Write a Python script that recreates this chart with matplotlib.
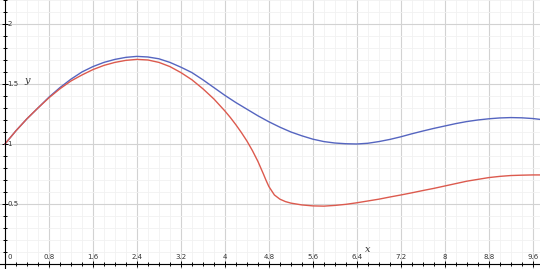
import numpy as np
import matplotlib
matplotlib.use('Agg')
import matplotlib.pyplot as plt
from matplotlib.ticker import MultipleLocator

# values
blue_x = [0, 0.2, 0.4, 0.6, 0.8, 1.0, 1.2, 1.4, 1.6, 1.8, 2.0, 2.2, 2.4, 2.6, 2.8, 3.0,
          3.2, 3.4, 3.6, 3.8, 4.0, 4.2, 4.4, 4.6, 4.8, 5.0, 5.2, 5.4, 5.6, 5.8, 6.0, 6.2,
          6.4, 6.6, 6.8, 7.0, 7.2, 7.4, 7.6, 7.8, 8.0, 8.2, 8.4, 8.6, 8.8, 9.0, 9.2, 9.4,
          9.6, 9.73]
blue_y = [1.00, 1.11, 1.21, 1.30, 1.39, 1.47, 1.54, 1.60, 1.645, 1.68, 1.705, 1.722,
          1.73, 1.725, 1.71, 1.68, 1.64, 1.595, 1.535, 1.47, 1.405, 1.345, 1.29, 1.235,
          1.185, 1.14, 1.10, 1.068, 1.04, 1.02, 1.008, 1.002, 1.00, 1.006, 1.02, 1.038,
          1.06, 1.085, 1.108, 1.13, 1.15, 1.17, 1.187, 1.20, 1.21, 1.217, 1.22, 1.218,
          1.212, 1.205]

red_x = [0, 0.2, 0.4, 0.6, 0.8, 1.0, 1.2, 1.4, 1.6, 1.8, 2.0, 2.2, 2.4, 2.6, 2.8, 3.0,
         3.2, 3.4, 3.6, 3.8, 4.0, 4.1, 4.2, 4.3, 4.4, 4.5, 4.6, 4.7, 4.75, 4.8, 4.9, 5.0,
         5.1, 5.2, 5.4, 5.6, 5.8, 6.0, 6.2, 6.4, 6.6, 6.8, 7.0, 7.2, 7.4, 7.6, 7.8, 8.0,
         8.2, 8.4, 8.6, 8.8, 9.0, 9.2, 9.4, 9.6, 9.73]
red_y = [1.00, 1.11, 1.21, 1.30, 1.385, 1.46, 1.525, 1.575, 1.62, 1.655, 1.68, 1.697,
         1.705, 1.70, 1.68, 1.645, 1.595, 1.535, 1.46, 1.375, 1.275, 1.22, 1.16, 1.095,
         1.025, 0.945, 0.855, 0.75, 0.695, 0.645, 0.575, 0.54, 0.52, 0.507, 0.492, 0.484,
         0.482, 0.488, 0.497, 0.51, 0.525, 0.54, 0.558, 0.575, 0.593, 0.612, 0.63, 0.65,
         0.67, 0.69, 0.705, 0.72, 0.73, 0.737, 0.74, 0.742, 0.742]

x_ticks = [0.8, 1.6, 2.4, 3.2, 4, 4.8, 5.6, 6.4, 7.2, 8, 8.8, 9.6]
x_labels = ['0.8', '1.6', '2.4', '3.2', '4', '4.8', '5.6', '6.4', '7.2', '8', '8.8', '9.6']
y_ticks = [0.5, 1, 1.5, 2]
y_labels = ['0.5', '1', '1.5', '2']

fig = plt.figure(figsize=(5.4, 2.69), dpi=100)
ax = fig.add_axes([0, 0, 1, 1])
ax.set_xlim(-0.09, 9.73)
ax.set_ylim(-0.042, 2.2)

# grid
ax.xaxis.set_major_locator(MultipleLocator(0.8))
ax.yaxis.set_major_locator(MultipleLocator(0.5))
ax.xaxis.set_minor_locator(MultipleLocator(0.2))
ax.yaxis.set_minor_locator(MultipleLocator(0.1))
ax.grid(which='major', color='#d2d2d2', lw=0.8)
ax.grid(which='minor', color='#f1f1f1', lw=0.6)
ax.set_axisbelow(True)

# axes through the origin
ax.spines['left'].set_position(('data', 0))
ax.spines['bottom'].set_position(('data', 0))
ax.spines['top'].set_visible(False)
ax.spines['right'].set_visible(False)
ax.spines['left'].set_linewidth(0.8)
ax.spines['bottom'].set_linewidth(0.8)
ax.tick_params(which='both', direction='inout', length=4, width=0.7,
               labelbottom=False, labelleft=False)
ax.tick_params(which='minor', length=3)

ax.plot(blue_x, blue_y, color='#5565c0', lw=1.0)
ax.plot(red_x, red_y, color='#dc5a4e', lw=1.0)

for t, lab in zip(x_ticks, x_labels):
    ax.text(t, 0.035, lab, fontsize=5, ha='center', va='bottom', color='#333333')
ax.text(0.09, 0.035, '0', fontsize=5, ha='center', va='bottom', color='#333333')
for t, lab in zip(y_ticks, y_labels):
    ax.text(0.04, t, lab, fontsize=5, ha='left', va='center', color='#333333')

ax.text(0.4, 1.53, 'y', fontsize=7, style='italic', family='DejaVu Serif',
        ha='center', va='center', color='#333333')
ax.text(6.6, 0.12, 'x', fontsize=7, style='italic', family='DejaVu Serif',
        ha='center', va='center', color='#333333')

fig.savefig('out.png', dpi=100)
